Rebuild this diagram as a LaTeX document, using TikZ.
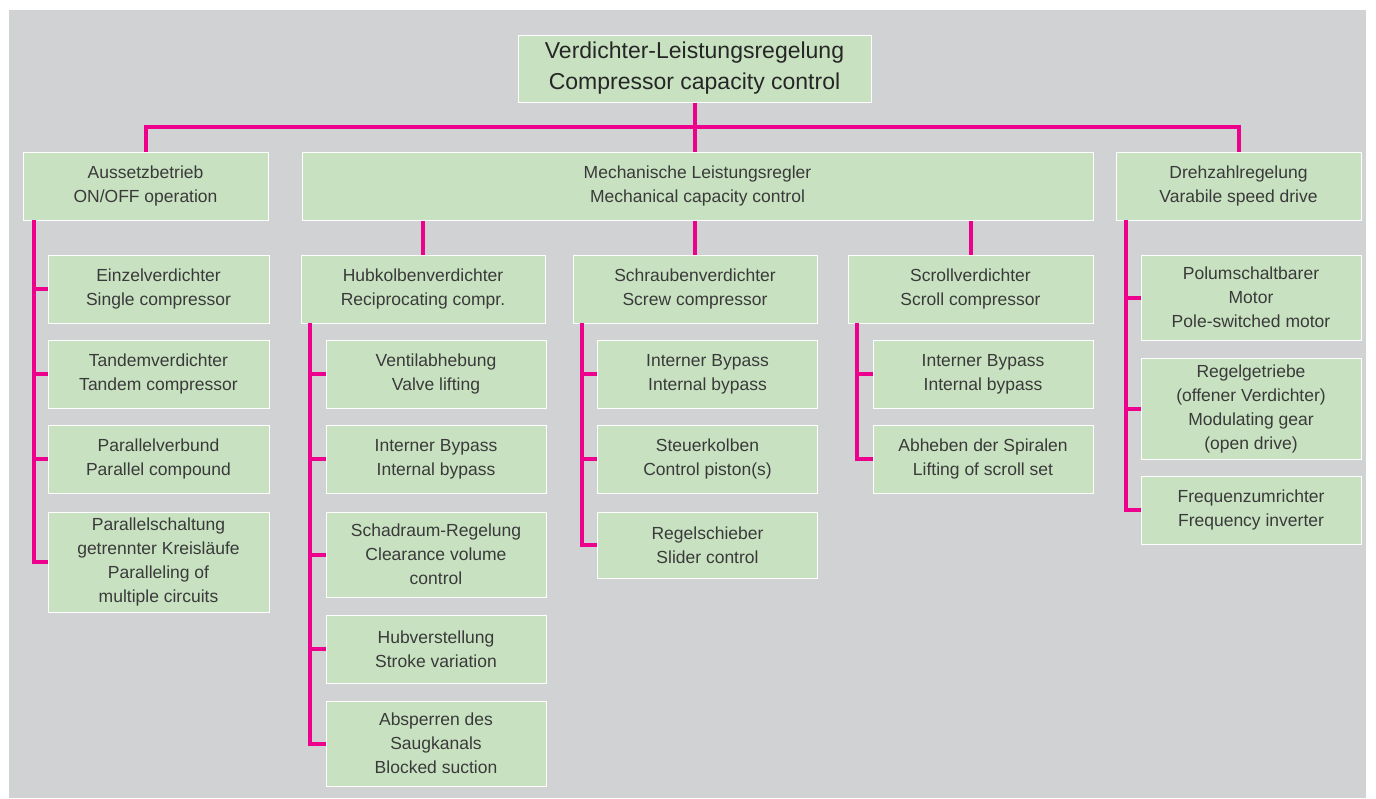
\documentclass[tikz,border=0pt]{standalone}
\usepackage{fontspec}
\setmainfont{Liberation Sans}

\definecolor{bggray}{HTML}{D1D2D4}
\definecolor{boxgreen}{HTML}{C8E2C1}
\definecolor{linkpink}{HTML}{EC008C}
\definecolor{textgray}{HTML}{3A3A3A}

\tikzset{
	box/.style 2 args = {draw = white, line width = 1pt, fill = boxgreen, text = textgray, align = center, inner sep = 0pt, minimum width = #1, minimum height = #2, font = \fontsize{17.5}{24}\selectfont},
	leaf/.style = {box = {220pt}{#1}},
	leaf/.default = 68pt,
	link/.style = {draw = linkpink, line width = 4pt},
}

\begin{document}
\begin{tikzpicture}[x = 1pt, y = -1pt]

	% Background
	
	\useasboundingbox (0, 0) rectangle (1376, 798);
	\fill [bggray] (9, 10) rectangle (1366, 798);
	
	% Top and first level
	
	\node [box = {353pt}{67pt}, text = black!85, font = \fontsize{23}{31}\selectfont] (top) at (694.5, 68.5) {Verdichter-Leistungsregelung\\Compressor capacity control};
	\node [box = {245pt}{68pt}] (aus) at (145.5, 186) {Aussetzbetrieb\\ON/OFF operation};
	\node [box = {791pt}{68pt}] (mech) at (697.5, 186) {Mechanische Leistungsregler\\Mechanical capacity control};
	\node [box = {245pt}{68pt}] (dreh) at (1238.5, 186) {Drehzahlregelung\\Varabile speed drive};
	
	\coordinate (bus) at (694.5, 127);
	\draw [link] (aus.north) |- (bus) -| (dreh.north);
	\draw [link] (top.south) -- (top.south |- mech.north);
	
	% Mechanical types
	
	\node [box = {244pt}{68pt}] (hub) at (423, 289) {Hubkolbenverdichter\\Reciprocating compr.};
	\node [box = {244pt}{68pt}] (schr) at (695, 289) {Schraubenverdichter\\Screw compressor};
	\node [box = {245pt}{68pt}] (scroll) at (970.5, 289) {Scrollverdichter\\Scroll compressor};
	
	\draw [link] (mech.south -| hub.north) -- (hub.north);
	\draw [link] (mech.south -| schr.north) -- (schr.north);
	\draw [link] (mech.south -| scroll.north) -- (scroll.north);
	
	% ON/OFF operation
	
	\node [box = {221pt}{68pt}] (einzel) at (158.5, 289) {Einzelverdichter\\Single compressor};
	\node [box = {221pt}{68pt}] (tandem) at (158.5, 374) {Tandemverdichter\\Tandem compressor};
	\node [box = {221pt}{68pt}] (verbund) at (158.5, 459) {Parallelverbund\\Parallel compound};
	\node [box = {221pt}{100pt}] (kreis) at (158.5, 562) {Parallelschaltung\\getrennter Kreisläufe\\Paralleling of\\multiple circuits};
	
	\coordinate (aus-trunk) at (34, 220);
	\draw [link] (aus-trunk) |- (einzel.west);
	\draw [link] (aus-trunk) |- (tandem.west);
	\draw [link] (aus-trunk) |- (verbund.west);
	\draw [link] (aus-trunk) |- (kreis.west);
	
	% Reciprocating
	
	\node [leaf] (ventil) at (436, 374) {Ventilabhebung\\Valve lifting};
	\node [leaf] (hub-bypass) at (436, 459) {Interner Bypass\\Internal bypass};
	\node [leaf = 85pt] (schadraum) at (436, 554.5) {Schadraum-Regelung\\Clearance volume\\control};
	\node [leaf] (stroke) at (436, 649) {Hubverstellung\\Stroke variation};
	\node [leaf = 85pt] (suction) at (436, 743.5) {Absperren des\\Saugkanals\\Blocked suction};
	
	\coordinate (hub-trunk) at (310, 323);
	\draw [link] (hub-trunk) |- (ventil.west);
	\draw [link] (hub-trunk) |- (hub-bypass.west);
	\draw [link] (hub-trunk) |- (schadraum.west);
	\draw [link] (hub-trunk) |- (stroke.west);
	\draw [link] (hub-trunk) |- (suction.west);
	
	% Screw
	
	\node [leaf] (schr-bypass) at (707.5, 374) {Interner Bypass\\Internal bypass};
	\node [leaf] (piston) at (707.5, 459) {Steuerkolben\\Control piston(s)};
	\node [leaf = 66pt] (slider) at (707.5, 545) {Regelschieber\\Slider control};
	
	\coordinate (schr-trunk) at (582, 323);
	\draw [link] (schr-trunk) |- (schr-bypass.west);
	\draw [link] (schr-trunk) |- (piston.west);
	\draw [link] (schr-trunk) |- (slider.west);
	
	% Scroll
	
	\node [leaf] (scroll-bypass) at (983, 374) {Interner Bypass\\Internal bypass};
	\node [leaf] (spiral) at (983, 459) {Abheben der Spiralen\\Lifting of scroll set};
	
	\coordinate (scroll-trunk) at (857, 323);
	\draw [link] (scroll-trunk) |- (scroll-bypass.west);
	\draw [link] (scroll-trunk) |- (spiral.west);
	
	% Variable speed
	
	\node [leaf = 85pt] (pole) at (1251, 297.5) {Polumschaltbarer\\Motor\\Pole-switched motor};
	\node [leaf = 101pt] (gear) at (1251, 408.5) {Regelgetriebe\\(offener Verdichter)\\Modulating gear\\(open drive)};
	\node [leaf] (inverter) at (1251, 510) {Frequenzumrichter\\Frequency inverter};
	
	\coordinate (dreh-trunk) at (1126, 220);
	\draw [link] (dreh-trunk) |- (pole.west);
	\draw [link] (dreh-trunk) |- (gear.west);
	\draw [link] (dreh-trunk) |- (inverter.west);
	
\end{tikzpicture}
\end{document}
